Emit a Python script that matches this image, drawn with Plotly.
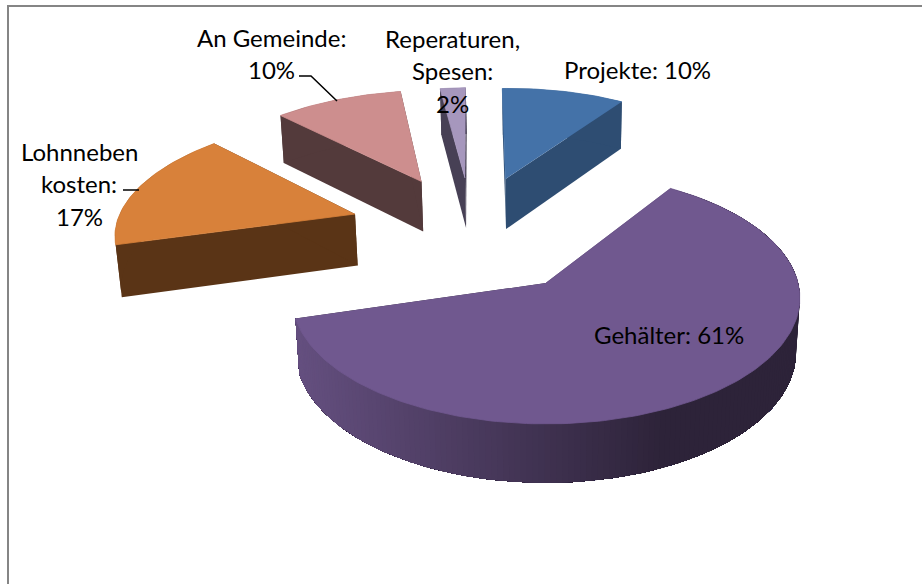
import numpy as np
import plotly.graph_objects as go

# ---- data (label percentages are rounded; slice sizes) ----
categories = ["Projekte", "Gehälter", "Lohnneben kosten", "An Gemeinde", "Reperaturen, Spesen"]
shares = [9.7, 61.4, 16.9, 10.0, 2.0]
label_lines = [["Projekte: 10%"], ["Gehälter: 61%"], ["Lohnneben", "kosten:", "17%"],
               ["An Gemeinde:", "10%"], ["Reperaturen,", "Spesen:", "2%"]]

# ---- styling ----
top_colors = ["#4472a8", "#70588f", "#d8813a", "#cd8e8e", "#a697bd"]
side_colors = ["#2e4d72", "#2d2339", "#5a3416", "#533a3b", "#474055"]
gradient_left, gradient_right = (0x64, 0x4f, 0x7f), (0x2d, 0x23, 0x39)
FONT = "Lato"
TEXT_SIZE = 24

# projection of the pie plane (camera above, looking at the tilted disk)
CX, CY, A, B, K = 546.0, 283.0, 252.0, 124.0, 0.12
DEPTH, DEPTH_PERSP = 54.8, 0.015
START = -2.0
# where each exploded slice's tip lands on screen
tips = [(505.5, 179), (546, 283), (355, 214), (421.5, 181.5), (465, 178)]
draw_order = [0, 3, 4, 2, 1]
# text placement: (centre x, first line centre y) per slice
label_pos = [(637, 69), (669, 334), (79, 151), (271, 37), (452, 38)]
LINE_GAP = 32.5
leaders = [([299, 311, 337], [76, 76, 101]), ([123, 139], [190, 190])]


def project(u, v, lower=False):
    w = 1 - K * v
    if lower:
        g = w + DEPTH_PERSP
        return CX + A * u / g, CY + (B * v + DEPTH) / g
    return CX + A * u / w, CY + B * v / w


def unproject(x, y):
    dy = y - CY
    v = dy / (B + K * dy)
    return (x - CX) * (1 - K * v) / A, v


def poly(x, y, color, lw=0.8):
    return go.Scatter(x=list(x), y=list(y), mode="lines", fill="toself", fillcolor=color,
                      line=dict(color=color, width=lw), hoverinfo="skip", showlegend=False)


def mix(frac):
    frac = min(max(frac, 0), 1)
    c = [round(a + (b - a) * frac) for a, b in zip(gradient_left, gradient_right)]
    return "rgb(%d,%d,%d)" % tuple(c)


fig = go.Figure()

# frame
fig.add_trace(go.Scatter(x=[8, 8, 922], y=[584, 6, 6], mode="lines",
                         line=dict(color="#858585", width=2), hoverinfo="skip", showlegend=False))

cum = np.concatenate([[0], np.cumsum(shares)]) / sum(shares) * 360 + START
for i in draw_order:
    u0, v0 = unproject(*tips[i])
    t = np.radians(np.linspace(cum[i], cum[i + 1], max(8, int(shares[i] * 3))))
    u = u0 + np.sin(t)
    v = v0 - np.cos(t)
    tx, ty = project(u, v)
    bx, by = project(u, v, True)
    ax, ay = project(u0, v0)
    abx, aby = project(u0, v0, True)

    # radial cut faces
    fig.add_trace(poly([ax, tx[0], bx[0], abx], [ay, ty[0], by[0], aby], side_colors[i], 0))
    fig.add_trace(poly([ax, tx[-1], bx[-1], abx], [ay, ty[-1], by[-1], aby], side_colors[i], 0))

    # rim
    if i == 1:
        # each band underlaps the next so no seams show
        for j in range(len(t) - 1):
            frac = ((tx[j] + tx[j + 1]) / 2 - 298) / (665 - 298)
            fig.add_trace(poly(list(tx[j:]) + list(bx[j:][::-1]),
                               list(ty[j:]) + list(by[j:][::-1]), mix(frac), 0))
    else:
        fig.add_trace(poly(list(tx) + list(bx[::-1]), list(ty) + list(by[::-1]), side_colors[i], 0))

    # top surface
    fig.add_trace(poly([ax] + list(tx), [ay] + list(ty), top_colors[i]))

# leader lines
for lx, ly in leaders:
    fig.add_trace(go.Scatter(x=lx, y=ly, mode="lines", line=dict(color="#000000", width=1.5),
                             hoverinfo="skip", showlegend=False))

# labels
for lines, (lx, ly) in zip(label_lines, label_pos):
    for n, line in enumerate(lines):
        fig.add_annotation(x=lx, y=ly + n * LINE_GAP, text=line, showarrow=False,
                           xanchor="center", yanchor="middle",
                           font=dict(family=FONT, size=TEXT_SIZE, color="#000000"))

fig.update_layout(
    width=922, height=584, margin=dict(l=0, r=0, t=0, b=0),
    paper_bgcolor="#ffffff", plot_bgcolor="#ffffff", showlegend=False,
    xaxis=dict(range=[0, 922], visible=False, fixedrange=True),
    yaxis=dict(range=[584, 0], visible=False, fixedrange=True),
)
fig.write_html("out.html", config={"displayModeBar": False},
               post_script="document.body.style.margin='0';document.body.style.overflow='hidden';")
